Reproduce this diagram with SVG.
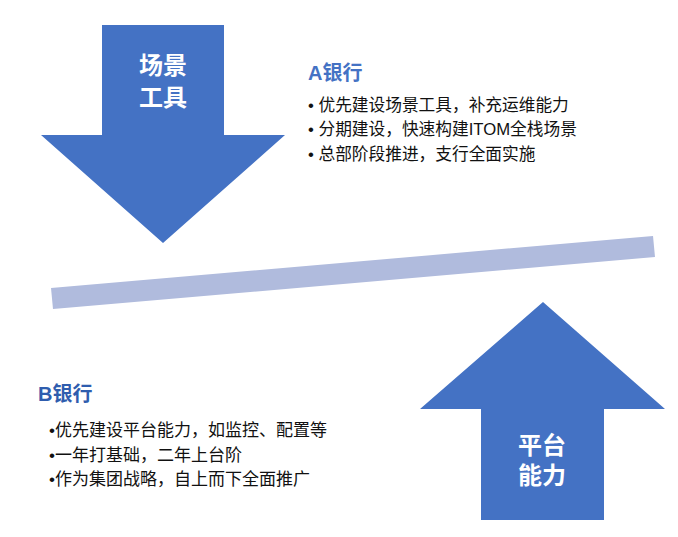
<svg xmlns="http://www.w3.org/2000/svg" width="678" height="537" viewBox="0 0 678 537">
<style>
.arrow{fill:#4472C4}
.bar{fill:#B0BBDD}
.lbl{font-family:"Liberation Sans","Noto Sans CJK SC",sans-serif;font-size:24px;font-weight:bold;fill:#FFFFFF;text-anchor:middle}
.ttl{font-family:"Liberation Sans","Noto Sans CJK SC",sans-serif;font-size:20px;font-weight:bold;fill:#4472C4}
.ttlB{font-family:"Liberation Sans","Noto Sans CJK SC",sans-serif;font-size:20px;font-weight:bold;fill:#2F5DAE}
.txt{font-family:"Liberation Sans","Noto Sans CJK SC",sans-serif;font-size:16.7px;fill:#111111}
.txtB{font-family:"Liberation Sans","Noto Sans CJK SC",sans-serif;font-size:17px;fill:#111111}
</style>
<rect width="678" height="537" fill="#FFFFFF"/>
<g id="bar">
<polygon class="bar" points="51,288 653,236 655,257 53,309"/>
</g>
<g id="scene-tools">
<polygon class="arrow" points="102,25 224,25 224,135 285,135 163,243 41,135 102,135"/>
<text class="lbl" x="163" y="74">场景</text>
<text class="lbl" x="163" y="106">工具</text>
</g>
<g id="platform">
<polygon class="arrow" points="543,302 665,409 604,409 604,520 481,520 481,409 420,409"/>
<text class="lbl" x="542" y="454">平台</text>
<text class="lbl" x="542" y="484">能力</text>
</g>
<g id="bank-a">
<text class="ttl" x="308" y="80">A银行</text>
<text class="txt" x="308" y="111">• 优先建设场景工具，补充运维能力</text>
<text class="txt" x="308" y="135">• 分期建设，快速构建ITOM全栈场景</text>
<text class="txt" x="308" y="160">• 总部阶段推进，支行全面实施</text>
</g>
<g id="bank-b">
<text class="ttlB" x="38" y="401">B银行</text>
<text class="txtB" x="49" y="436">•优先建设平台能力，如监控、配置等</text>
<text class="txtB" x="49" y="461">•一年打基础，二年上台阶</text>
<text class="txtB" x="49" y="485">•作为集团战略，自上而下全面推广</text>
</g>
</svg>
